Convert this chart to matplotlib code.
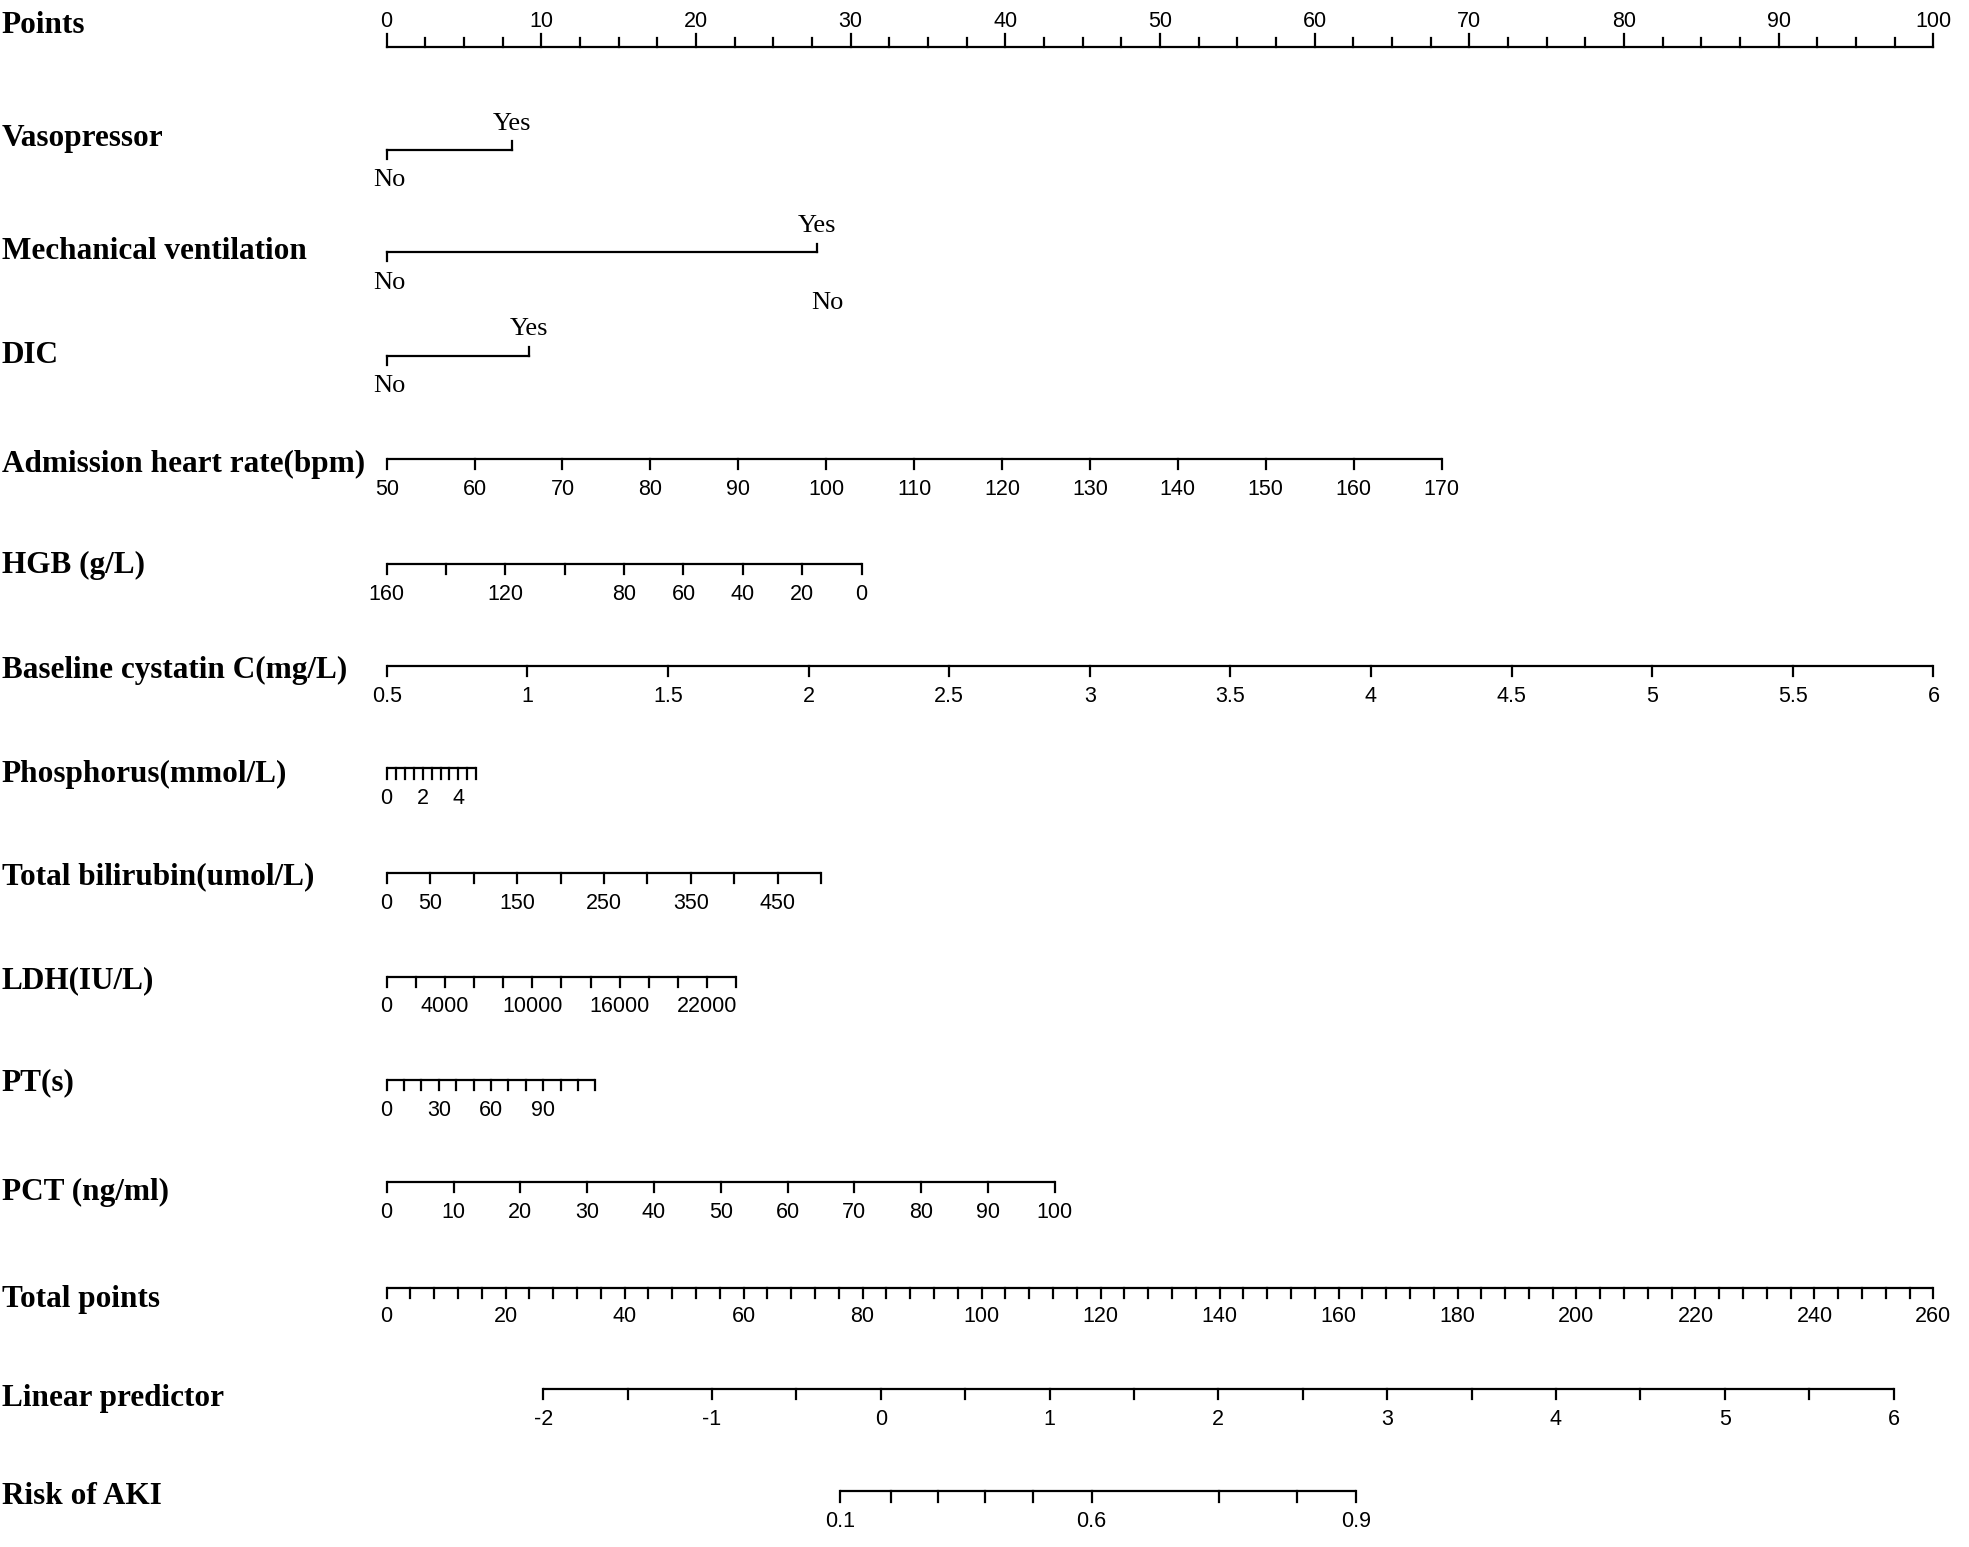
import numpy as np
import matplotlib
matplotlib.use('Agg')
import matplotlib.pyplot as plt

# ---------------- data ----------------
# binary predictors: points given to "Yes" (No = 0)
vaso_yes_pts = 8.1
mv_yes_pts = 27.8
dic_yes_pts = 9.2

# continuous predictors: tick values, tick labels, points at first / last tick
hr_vals = [50, 60, 70, 80, 90, 100, 110, 120, 130, 140, 150, 160, 170]
hr_labels = ['50', '60', '70', '80', '90', '100', '110', '120', '130', '140', '150', '160', '170']
hr_pts = (0.0, 68.2)

hgb_vals = [160, 140, 120, 100, 80, 60, 40, 20, 0]
hgb_labels = ['160', '', '120', '', '80', '60', '40', '20', '0']
hgb_pts = (0.0, 30.7)

cys_vals = [0.5, 1, 1.5, 2, 2.5, 3, 3.5, 4, 4.5, 5, 5.5, 6]
cys_labels = ['0.5', '1', '1.5', '2', '2.5', '3', '3.5', '4', '4.5', '5', '5.5', '6']
cys_pts = (0.0, 100.0)

phos_vals = [0, 0.5, 1, 1.5, 2, 2.5, 3, 3.5, 4, 4.5, 5]
phos_labels = ['0', '', '', '', '2', '', '', '', '4', '', '']
phos_pts = (0.0, 5.8)

tbil_vals = [0, 50, 100, 150, 200, 250, 300, 350, 400, 450, 500]
tbil_labels = ['0', '50', '', '150', '', '250', '', '350', '', '450', '']
tbil_pts = (0.0, 28.1)

ldh_vals = [0, 2000, 4000, 6000, 8000, 10000, 12000, 14000, 16000, 18000, 20000, 22000, 24000]
ldh_labels = ['0', '', '4000', '', '', '10000', '', '', '16000', '', '', '22000', '']
ldh_pts = (0.0, 22.6)

pt_vals = [0, 10, 20, 30, 40, 50, 60, 70, 80, 90, 100, 110, 120]
pt_labels = ['0', '', '', '30', '', '', '60', '', '', '90', '', '', '']
pt_pts = (0.0, 13.5)

pct_vals = [0, 10, 20, 30, 40, 50, 60, 70, 80, 90, 100]
pct_labels = ['0', '10', '20', '30', '40', '50', '60', '70', '80', '90', '100']
pct_pts = (0.0, 43.2)

# total points scale and outcome scales (positions in total points)
total_max = 260
lp_vals = [-2, -1.5, -1, -0.5, 0, 0.5, 1, 1.5, 2, 2.5, 3, 3.5, 4, 4.5, 5, 5.5, 6]
lp_labels = ['-2', '', '-1', '', '0', '', '1', '', '2', '', '3', '', '4', '', '5', '', '6']
lp_total = (26.3, 253.3)

risk_vals = [0.1, 0.2, 0.3, 0.4, 0.5, 0.6, 0.7, 0.8, 0.9]
risk_labels = ['0.1', '', '', '', '', '0.6', '', '', '0.9']
risk_total = [76.2, 84.7, 92.7, 100.5, 108.6, 118.5, 139.9, 153.1, 163.0]

# ---------------- style ----------------
LW = 1.6
lab_font = dict(family='Liberation Serif', fontsize=22.5, fontweight='bold')
cat_font = dict(family='Liberation Serif', fontsize=19)
tick_font = dict(family='Liberation Sans', fontsize=15.5)
TICK = 8          # tick length (layout units ~ px of displayed image)

fig = plt.figure(figsize=(19.69, 15.47), dpi=100)
ax = fig.add_axes([0, 0, 1, 1])
ax.set_xlim(-25.0, 102.3)
ax.set_ylim(1226, 0)
ax.axis('off')
X0 = -24.9


def lin_map(vals, pts):
    v = np.asarray(vals, dtype=float)
    return pts[0] + (v - v[0]) / (v[-1] - v[0]) * (pts[1] - pts[0])


def cont_axis(y, xs, labels, tick=TICK, lab_off=24):
    ax.plot([xs.min(), xs.max()], [y, y], color='black', lw=LW, solid_capstyle='butt')
    for x, l in zip(xs, labels):
        ax.plot([x, x], [y, y + tick], color='black', lw=LW)
        if l:
            ax.text(x, y + lab_off, l, ha='center', va='center', **tick_font)


def row_label(y, txt):
    ax.text(X0, y, txt, ha='left', va='center', **lab_font)


# Points
row_label(20, 'Points')
pts_minor = np.arange(0, 100.1, 2.5)
ax.plot([0, 100], [37, 37], color='black', lw=LW)
for p in pts_minor:
    big = abs(p % 10) < 1e-9
    ax.plot([p, p], [37, 37 - (10 if big else 7)], color='black', lw=LW)
    if big:
        ax.text(p, 17, '%d' % p, ha='center', va='center', **tick_font)


def binary_axis(y, yes_pts):
    ax.plot([0, yes_pts], [y, y], color='black', lw=LW)
    ax.plot([0, 0], [y, y + 7], color='black', lw=LW)
    ax.plot([yes_pts, yes_pts], [y, y - 7], color='black', lw=LW)
    ax.text(yes_pts, y - 21, 'Yes', ha='center', va='center', **cat_font)
    ax.text(0.2, y + 24, 'No', ha='center', va='center', **cat_font)


row_label(110, 'Vasopressor')
binary_axis(119, vaso_yes_pts)
row_label(199, 'Mechanical ventilation')
binary_axis(200, mv_yes_pts)
ax.text(mv_yes_pts + 0.7, 240, 'No', ha='center', va='center', **cat_font)
row_label(282, 'DIC')
binary_axis(282, dic_yes_pts)

rows = [
    (368, 364, 'Admission heart rate(bpm)', hr_vals, hr_labels, hr_pts),
    (448, 447, 'HGB (g/L)', hgb_vals, hgb_labels, hgb_pts),
    (531, 528, 'Baseline cystatin C(mg/L)', cys_vals, cys_labels, cys_pts),
    (614, 609, 'Phosphorus(mmol/L)', phos_vals, phos_labels, phos_pts),
    (695, 692, 'Total bilirubin(umol/L)', tbil_vals, tbil_labels, tbil_pts),
    (777, 774, 'LDH(IU/L)', ldh_vals, ldh_labels, ldh_pts),
    (858, 856, 'PT(s)', pt_vals, pt_labels, pt_pts),
    (945, 937, 'PCT (ng/ml)', pct_vals, pct_labels, pct_pts),
]
for ytxt, yline, name, vals, labels, pts in rows:
    row_label(ytxt, name)
    cont_axis(yline, lin_map(vals, pts), labels)

# Total points
scale = 100.0 / total_max
row_label(1030, 'Total points')
tp_ticks = np.arange(0, total_max + 1, 4)
tp_labels = ['%d' % t if t % 20 == 0 else '' for t in tp_ticks]
cont_axis(1021, tp_ticks * scale, tp_labels, lab_off=22)

row_label(1108, 'Linear predictor')
cont_axis(1101, lin_map(lp_vals, lp_total) * scale, lp_labels)

row_label(1186, 'Risk of AKI')
cont_axis(1182, np.array(risk_total) * scale, risk_labels)

plt.savefig('out.png', dpi=100)
